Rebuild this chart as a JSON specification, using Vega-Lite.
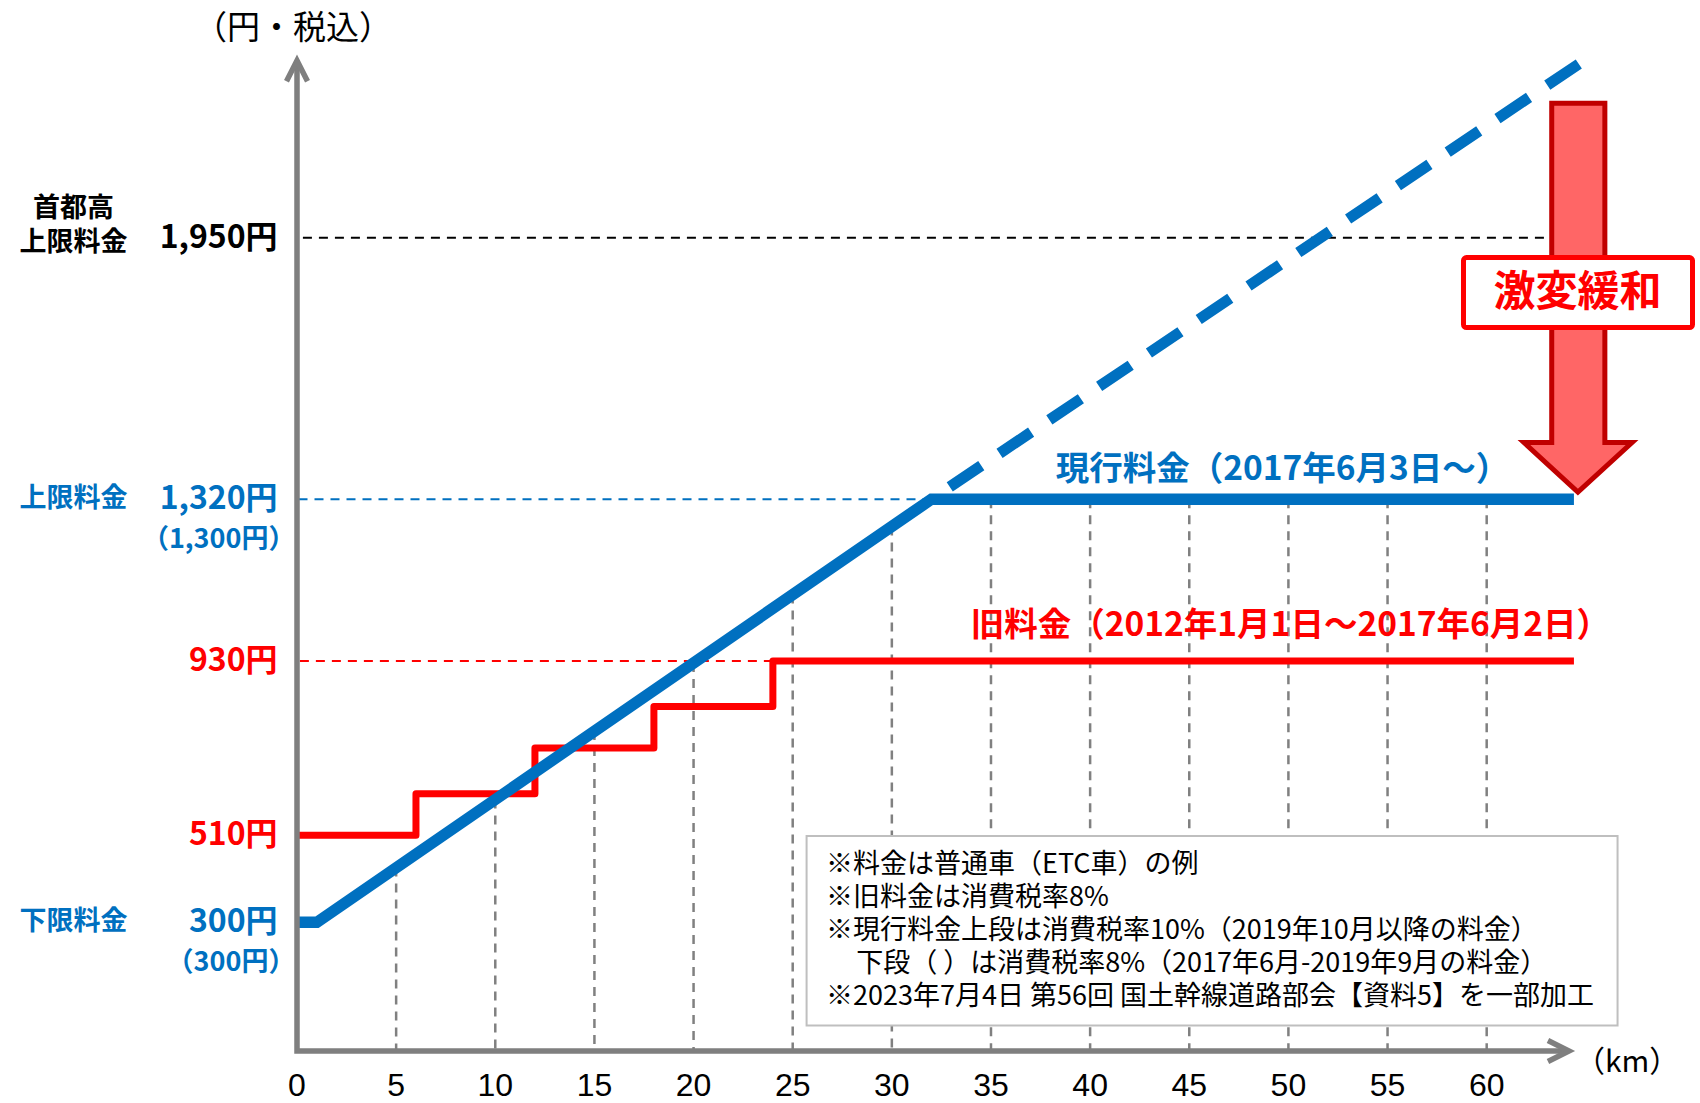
{
  "$schema": "https://vega.github.io/schema/vega-lite/v6.json",
  "width": 1269,
  "height": 1000,
  "padding": {"left": 297, "top": 51, "right": 134, "bottom": 52},
  "autosize": {"type": "none"},
  "background": "#ffffff",
  "config": {"view": {"stroke": null}, "text": {"font": "Noto Sans CJK JP"}},
  "datasets": {
    "grid": [
      {"km": 5, "fare": 432}, {"km": 10, "fare": 596}, {"km": 15, "fare": 761}, {"km": 20, "fare": 925},
      {"km": 25, "fare": 1090}, {"km": 30, "fare": 1254}, {"km": 35, "fare": 1320}, {"km": 40, "fare": 1320},
      {"km": 45, "fare": 1320}, {"km": 50, "fare": 1320}, {"km": 55, "fare": 1320}, {"km": 60, "fare": 1320}
    ],
    "ticks": [
      {"km": 0}, {"km": 5}, {"km": 10}, {"km": 15}, {"km": 20}, {"km": 25}, {"km": 30},
      {"km": 35}, {"km": 40}, {"km": 45}, {"km": 50}, {"km": 55}, {"km": 60}
    ],
    "refs": [
      {"fare": 1950, "end": 64.5, "kind": "cap"},
      {"fare": 1320, "end": 32, "kind": "current"},
      {"fare": 930, "end": 24, "kind": "old"}
    ],
    "old": [
      {"km": 0, "fare": 510}, {"km": 6, "fare": 610}, {"km": 12, "fare": 720},
      {"km": 18, "fare": 820}, {"km": 24, "fare": 930}, {"km": 64.4, "fare": 930}
    ],
    "extension": [
      {"km": 32, "fare": 1320}, {"km": 64.84, "fare": 2375}
    ],
    "current": [
      {"km": 0, "fare": 300}, {"km": 1, "fare": 300}, {"km": 32, "fare": 1320}, {"km": 64.4, "fare": 1320}
    ],
    "axes": [
      {"part": "frame", "o": 0, "km": 0, "fare": 2377},
      {"part": "frame", "o": 1, "km": 0, "fare": -10},
      {"part": "frame", "o": 2, "km": 64.15, "fare": -10},
      {"part": "yhead", "o": 0, "km": -0.53, "fare": 2327},
      {"part": "yhead", "o": 1, "km": 0, "fare": 2377},
      {"part": "yhead", "o": 2, "km": 0.53, "fare": 2327},
      {"part": "xhead", "o": 0, "km": 63.09, "fare": 15.3},
      {"part": "xhead", "o": 1, "km": 64.15, "fare": -10},
      {"part": "xhead", "o": 2, "km": 63.09, "fare": -35.3}
    ],
    "arrow": [
      {"o": 0, "km": 64.62, "fare": 2274.2},
      {"o": 1, "km": 65.96, "fare": 2274.2},
      {"o": 2, "km": 65.96, "fare": 1456.5},
      {"o": 3, "km": 67.33, "fare": 1456.5},
      {"o": 4, "km": 64.6, "fare": 1337.2},
      {"o": 5, "km": 61.88, "fare": 1456.5},
      {"o": 6, "km": 63.28, "fare": 1456.5},
      {"o": 7, "km": 63.28, "fare": 2274.2},
      {"o": 8, "km": 64.62, "fare": 2274.2}
    ],
    "amounts": [
      {"fare": 1950, "label": "1,950円", "kind": "cap"},
      {"fare": 1320, "label": "1,320円", "kind": "current"},
      {"fare": 930, "label": "930円", "kind": "old"},
      {"fare": 510, "label": "510円", "kind": "old"},
      {"fare": 300, "label": "300円", "kind": "current"}
    ],
    "subAmounts": [
      {"fare": 1320, "label": "（1,300円）", "kind": "current"},
      {"fare": 300, "label": "（300円）", "kind": "current"}
    ],
    "kinds": [
      {"fare": 1320, "label": "上限料金", "kind": "current"},
      {"fare": 300, "label": "下限料金", "kind": "current"}
    ],
    "capKind": [
      {"fare": 1950, "label": "首都高\n上限料金", "kind": "cap"}
    ]
  },
  "layer": [
    {
      "data": {"name": "grid"},
      "mark": {"type": "rule", "color": "#808080", "strokeWidth": 2.5, "strokeDash": [9, 7]},
      "encoding": {
        "x": {"field": "km", "type": "quantitative", "scale": {"domain": [0, 64], "nice": false, "zero": false}, "axis": null},
        "y": {"field": "fare", "type": "quantitative", "scale": {"domain": [-10, 2400], "nice": false, "zero": false}, "axis": null},
        "y2": {"datum": -10}
      }
    },
    {
      "data": {"name": "refs"},
      "mark": {"type": "rule", "strokeWidth": 2, "strokeDash": [9, 7]},
      "encoding": {
        "x": {"field": "end", "type": "quantitative", "scale": {"domain": [0, 64], "nice": false, "zero": false}, "axis": null},
        "x2": {"datum": 0},
        "y": {"field": "fare", "type": "quantitative", "scale": {"domain": [-10, 2400], "nice": false, "zero": false}, "axis": null},
        "color": {"field": "kind", "type": "nominal", "scale": {"domain": ["cap", "current", "old"], "range": ["#000000", "#0070C0", "#FF0000"]}, "legend": null}
      }
    },
    {
      "data": {"name": "old"},
      "mark": {"type": "line", "color": "#FF0000", "strokeWidth": 7, "interpolate": "step-after", "strokeJoin": "round"},
      "encoding": {
        "x": {"field": "km", "type": "quantitative", "scale": {"domain": [0, 64], "nice": false, "zero": false}, "axis": null},
        "y": {"field": "fare", "type": "quantitative", "scale": {"domain": [-10, 2400], "nice": false, "zero": false}, "axis": null}
      }
    },
    {
      "data": {"name": "extension"},
      "mark": {"type": "line", "color": "#0070C0", "strokeWidth": 11, "strokeDash": [38, 22], "strokeDashOffset": 38},
      "encoding": {
        "x": {"field": "km", "type": "quantitative", "scale": {"domain": [0, 64], "nice": false, "zero": false}, "axis": null},
        "y": {"field": "fare", "type": "quantitative", "scale": {"domain": [-10, 2400], "nice": false, "zero": false}, "axis": null}
      }
    },
    {
      "data": {"name": "current"},
      "mark": {"type": "line", "color": "#0070C0", "strokeWidth": 11.5},
      "encoding": {
        "x": {"field": "km", "type": "quantitative", "scale": {"domain": [0, 64], "nice": false, "zero": false}, "axis": null},
        "y": {"field": "fare", "type": "quantitative", "scale": {"domain": [-10, 2400], "nice": false, "zero": false}, "axis": null}
      }
    },
    {
      "data": {"name": "axes"},
      "mark": {"type": "line", "color": "#7F7F7F", "strokeWidth": 5.5, "strokeJoin": "miter"},
      "encoding": {
        "x": {"field": "km", "type": "quantitative", "scale": {"domain": [0, 64], "nice": false, "zero": false}, "axis": null},
        "y": {"field": "fare", "type": "quantitative", "scale": {"domain": [-10, 2400], "nice": false, "zero": false}, "axis": null},
        "detail": {"field": "part", "type": "nominal"},
        "order": {"field": "o", "type": "quantitative"}
      }
    },
    {
      "data": {"name": "ticks"},
      "mark": {"type": "text", "align": "center", "baseline": "middle", "fontSize": 32, "font": "Liberation Sans Narrow, Arial Narrow, Liberation Sans, sans-serif", "color": "#000000", "dy": 35},
      "encoding": {
        "x": {"field": "km", "type": "quantitative", "scale": {"domain": [0, 64], "nice": false, "zero": false}, "axis": null},
        "y": {"datum": -10, "type": "quantitative", "scale": {"domain": [-10, 2400], "nice": false, "zero": false}, "axis": null},
        "text": {"field": "km", "type": "quantitative"}
      }
    },
    {
      "data": {"values": [{"id": "note"}]},
      "mark": {"type": "rect", "fill": "#ffffff", "stroke": "#BFBFBF", "strokeWidth": 2},
      "encoding": {
        "x": {"datum": 25.7, "type": "quantitative", "scale": {"domain": [0, 64], "nice": false, "zero": false}, "axis": null},
        "x2": {"datum": 66.6},
        "y": {"datum": 508.2, "type": "quantitative", "scale": {"domain": [-10, 2400], "nice": false, "zero": false}, "axis": null},
        "y2": {"datum": 51.2}
      }
    },
    {
      "data": {"values": [{"t": "※料金は普通車（ETC車）の例"}]},
      "mark": {"type": "text", "align": "left", "baseline": "middle", "fontSize": 27, "color": "#000000"},
      "encoding": {
        "x": {"datum": 26.68, "type": "quantitative", "scale": {"domain": [0, 64], "nice": false, "zero": false}, "axis": null},
        "y": {"datum": 437.8, "type": "quantitative", "scale": {"domain": [-10, 2400], "nice": false, "zero": false}, "axis": null},
        "text": {"field": "t", "type": "nominal"}
      }
    },
    {
      "data": {"values": [{"t": "※旧料金は消費税率8%"}]},
      "mark": {"type": "text", "align": "left", "baseline": "middle", "fontSize": 27, "color": "#000000", "dy": 33},
      "encoding": {
        "x": {"datum": 26.68, "type": "quantitative", "scale": {"domain": [0, 64], "nice": false, "zero": false}, "axis": null},
        "y": {"datum": 437.8, "type": "quantitative", "scale": {"domain": [-10, 2400], "nice": false, "zero": false}, "axis": null},
        "text": {"field": "t", "type": "nominal"}
      }
    },
    {
      "data": {"values": [{"t": "※現行料金上段は消費税率10%（2019年10月以降の料金）"}]},
      "mark": {"type": "text", "align": "left", "baseline": "middle", "fontSize": 27, "color": "#000000", "dy": 66},
      "encoding": {
        "x": {"datum": 26.68, "type": "quantitative", "scale": {"domain": [0, 64], "nice": false, "zero": false}, "axis": null},
        "y": {"datum": 437.8, "type": "quantitative", "scale": {"domain": [-10, 2400], "nice": false, "zero": false}, "axis": null},
        "text": {"field": "t", "type": "nominal"}
      }
    },
    {
      "data": {"values": [{"t": "下段（ ）は消費税率8%（2017年6月-2019年9月の料金）"}]},
      "mark": {"type": "text", "align": "left", "baseline": "middle", "fontSize": 27, "color": "#000000", "dy": 99},
      "encoding": {
        "x": {"datum": 28.2, "type": "quantitative", "scale": {"domain": [0, 64], "nice": false, "zero": false}, "axis": null},
        "y": {"datum": 437.8, "type": "quantitative", "scale": {"domain": [-10, 2400], "nice": false, "zero": false}, "axis": null},
        "text": {"field": "t", "type": "nominal"}
      }
    },
    {
      "data": {"values": [{"t": "※2023年7月4日 第56回 国土幹線道路部会【資料5】を一部加工"}]},
      "mark": {"type": "text", "align": "left", "baseline": "middle", "fontSize": 27, "color": "#000000", "dy": 132},
      "encoding": {
        "x": {"datum": 26.68, "type": "quantitative", "scale": {"domain": [0, 64], "nice": false, "zero": false}, "axis": null},
        "y": {"datum": 437.8, "type": "quantitative", "scale": {"domain": [-10, 2400], "nice": false, "zero": false}, "axis": null},
        "text": {"field": "t", "type": "nominal"}
      }
    },
    {
      "data": {"name": "arrow"},
      "mark": {"type": "line", "fill": "#FF6666", "stroke": "#C00000", "strokeWidth": 5, "strokeJoin": "miter"},
      "encoding": {
        "x": {"field": "km", "type": "quantitative", "scale": {"domain": [0, 64], "nice": false, "zero": false}, "axis": null},
        "y": {"field": "fare", "type": "quantitative", "scale": {"domain": [-10, 2400], "nice": false, "zero": false}, "axis": null},
        "order": {"field": "o", "type": "quantitative"}
      }
    },
    {
      "data": {"values": [{"id": "box"}]},
      "mark": {"type": "rect", "fill": "#ffffff", "stroke": "#FF0000", "strokeWidth": 5, "cornerRadius": 3},
      "encoding": {
        "x": {"datum": 58.83, "type": "quantitative", "scale": {"domain": [0, 64], "nice": false, "zero": false}, "axis": null},
        "x2": {"datum": 70.38},
        "y": {"datum": 1902.3, "type": "quantitative", "scale": {"domain": [-10, 2400], "nice": false, "zero": false}, "axis": null},
        "y2": {"datum": 1733.6}
      }
    },
    {
      "data": {"values": [{"t": "激変緩和"}]},
      "mark": {"type": "text", "align": "center", "baseline": "middle", "fontSize": 42, "fontWeight": "bold", "color": "#FF0000"},
      "encoding": {
        "x": {"datum": 64.58, "type": "quantitative", "scale": {"domain": [0, 64], "nice": false, "zero": false}, "axis": null},
        "y": {"datum": 1817.5, "type": "quantitative", "scale": {"domain": [-10, 2400], "nice": false, "zero": false}, "axis": null},
        "text": {"field": "t", "type": "nominal"}
      }
    },
    {
      "data": {"values": [{"t": "現行料金（2017年6月3日～）"}]},
      "mark": {"type": "text", "align": "center", "baseline": "middle", "fontSize": 33.5, "fontWeight": "bold", "color": "#0070C0"},
      "encoding": {
        "x": {"datum": 49.7, "type": "quantitative", "scale": {"domain": [0, 64], "nice": false, "zero": false}, "axis": null},
        "y": {"datum": 1391.4, "type": "quantitative", "scale": {"domain": [-10, 2400], "nice": false, "zero": false}, "axis": null},
        "text": {"field": "t", "type": "nominal"}
      }
    },
    {
      "data": {"values": [{"t": "旧料金（2012年1月1日～2017年6月2日）"}]},
      "mark": {"type": "text", "align": "center", "baseline": "middle", "fontSize": 33.5, "fontWeight": "bold", "color": "#FF0000"},
      "encoding": {
        "x": {"datum": 50.1, "type": "quantitative", "scale": {"domain": [0, 64], "nice": false, "zero": false}, "axis": null},
        "y": {"datum": 1015.2, "type": "quantitative", "scale": {"domain": [-10, 2400], "nice": false, "zero": false}, "axis": null},
        "text": {"field": "t", "type": "nominal"}
      }
    },
    {
      "data": {"values": [{"t": "（円・税込）"}]},
      "mark": {"type": "text", "align": "center", "baseline": "middle", "fontSize": 33, "color": "#000000"},
      "encoding": {
        "x": {"datum": -0.2, "type": "quantitative", "scale": {"domain": [0, 64], "nice": false, "zero": false}, "axis": null},
        "y": {"datum": 2452, "type": "quantitative", "scale": {"domain": [-10, 2400], "nice": false, "zero": false}, "axis": null},
        "text": {"field": "t", "type": "nominal"}
      }
    },
    {
      "data": {"values": [{"t": "（km）"}]},
      "mark": {"type": "text", "align": "center", "baseline": "middle", "fontSize": 30, "color": "#000000"},
      "encoding": {
        "x": {"datum": 67.08, "type": "quantitative", "scale": {"domain": [0, 64], "nice": false, "zero": false}, "axis": null},
        "y": {"datum": -40, "type": "quantitative", "scale": {"domain": [-10, 2400], "nice": false, "zero": false}, "axis": null},
        "text": {"field": "t", "type": "nominal"}
      }
    },
    {
      "data": {"name": "amounts"},
      "mark": {"type": "text", "align": "right", "baseline": "middle", "fontSize": 32, "fontWeight": "bold"},
      "encoding": {
        "x": {"datum": -0.98, "type": "quantitative", "scale": {"domain": [0, 64], "nice": false, "zero": false}, "axis": null},
        "y": {"field": "fare", "type": "quantitative", "scale": {"domain": [-10, 2400], "nice": false, "zero": false}, "axis": null},
        "text": {"field": "label", "type": "nominal"},
        "color": {"field": "kind", "type": "nominal", "scale": {"domain": ["cap", "current", "old"], "range": ["#000000", "#0070C0", "#FF0000"]}, "legend": null}
      }
    },
    {
      "data": {"name": "subAmounts"},
      "mark": {"type": "text", "align": "right", "baseline": "middle", "fontSize": 27, "fontWeight": "bold", "dy": 41},
      "encoding": {
        "x": {"datum": -0.08, "type": "quantitative", "scale": {"domain": [0, 64], "nice": false, "zero": false}, "axis": null},
        "y": {"field": "fare", "type": "quantitative", "scale": {"domain": [-10, 2400], "nice": false, "zero": false}, "axis": null},
        "text": {"field": "label", "type": "nominal"},
        "color": {"field": "kind", "type": "nominal", "scale": {"domain": ["cap", "current", "old"], "range": ["#000000", "#0070C0", "#FF0000"]}, "legend": null}
      }
    },
    {
      "data": {"name": "kinds"},
      "mark": {"type": "text", "align": "center", "baseline": "middle", "fontSize": 27, "fontWeight": "bold"},
      "encoding": {
        "x": {"datum": -11.27, "type": "quantitative", "scale": {"domain": [0, 64], "nice": false, "zero": false}, "axis": null},
        "y": {"field": "fare", "type": "quantitative", "scale": {"domain": [-10, 2400], "nice": false, "zero": false}, "axis": null},
        "text": {"field": "label", "type": "nominal"},
        "color": {"field": "kind", "type": "nominal", "scale": {"domain": ["cap", "current", "old"], "range": ["#000000", "#0070C0", "#FF0000"]}, "legend": null}
      }
    },
    {
      "data": {"name": "capKind"},
      "mark": {"type": "text", "align": "center", "baseline": "middle", "fontSize": 27, "fontWeight": "bold", "lineBreak": "\n", "lineHeight": 34, "dy": -29},
      "encoding": {
        "x": {"datum": -11.27, "type": "quantitative", "scale": {"domain": [0, 64], "nice": false, "zero": false}, "axis": null},
        "y": {"field": "fare", "type": "quantitative", "scale": {"domain": [-10, 2400], "nice": false, "zero": false}, "axis": null},
        "text": {"field": "label", "type": "nominal"},
        "color": {"field": "kind", "type": "nominal", "scale": {"domain": ["cap", "current", "old"], "range": ["#000000", "#0070C0", "#FF0000"]}, "legend": null}
      }
    }
  ]
}
